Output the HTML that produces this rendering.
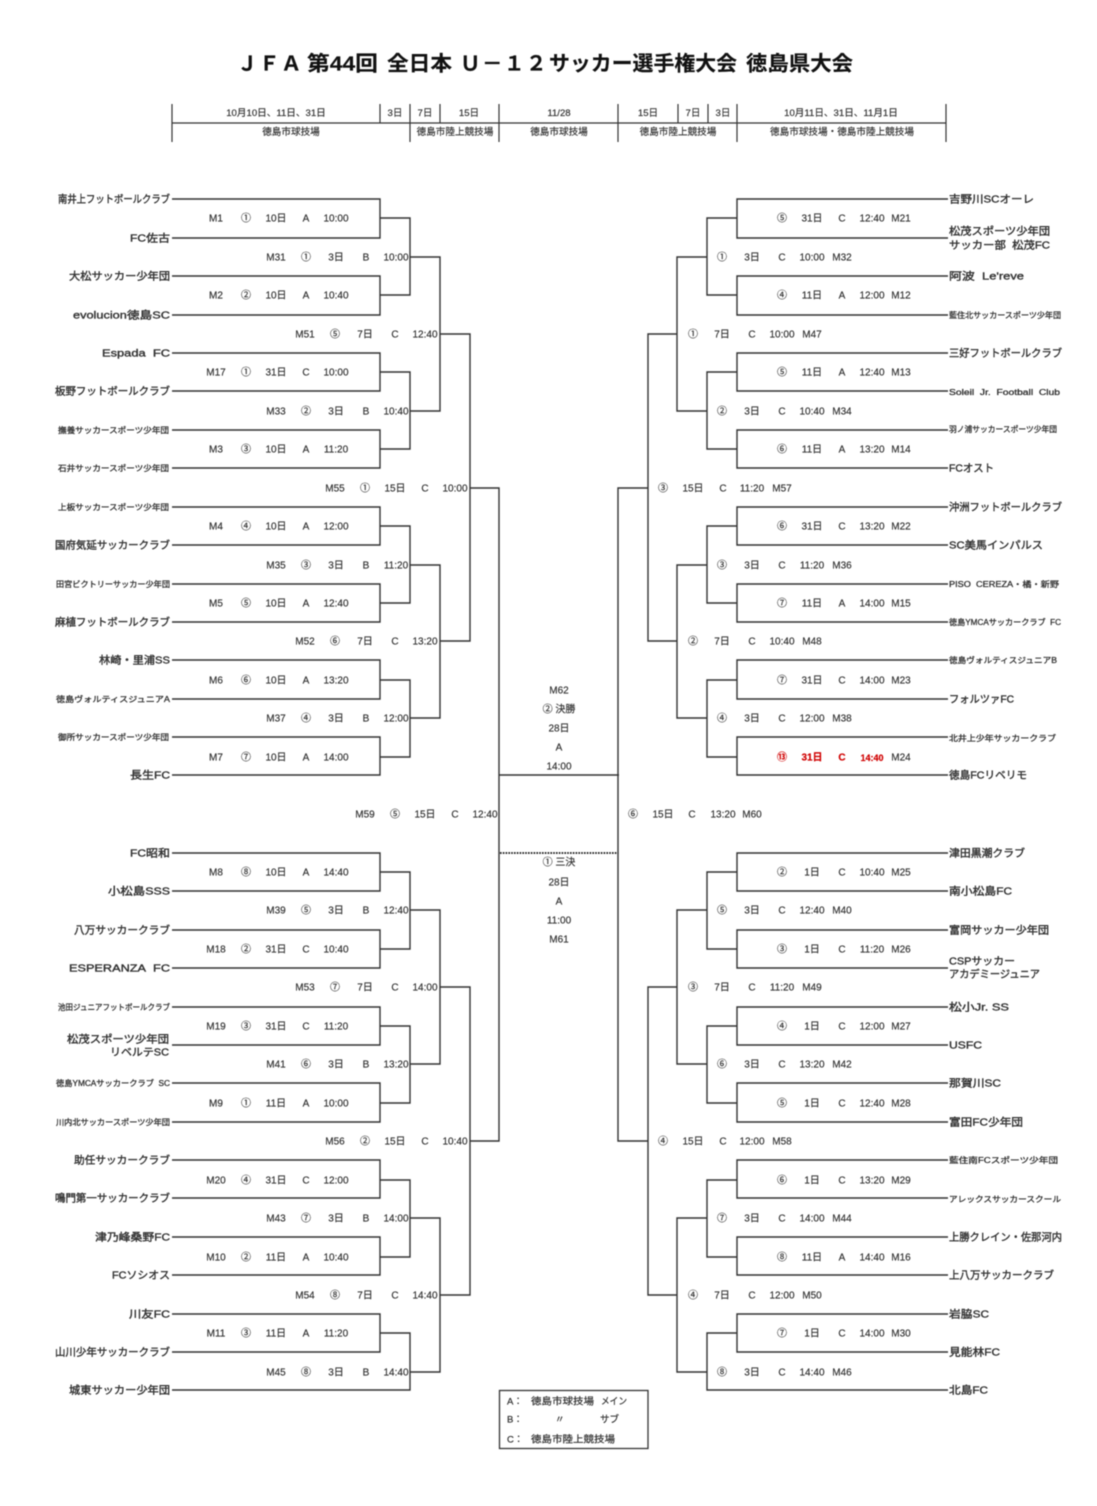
<!DOCTYPE html>
<html lang="ja"><head><meta charset="utf-8"><title>JFA U-12</title>
<style>
html,body{margin:0;padding:0;background:#fff}
svg{display:block;filter:blur(.42px)}
text{font-family:"Liberation Sans","Noto Sans CJK JP",sans-serif;fill:#333;dominant-baseline:central}
.m{transform:translateY(1.2px)}
.m text{font-size:10px;text-anchor:middle;stroke:#333;stroke-width:.18px}
.t{transform:translateY(.5px)}
.t text{font-size:10.5px;fill:#333;stroke:#333;stroke-width:.38px}
.s{transform:translateY(.3px)}
.s text{font-size:8px;fill:#333;stroke:#333;stroke-width:.3px}
.l text{font-size:9.5px;fill:#333;stroke:#333;stroke-width:.22px}
.h{transform:translateY(.5px)}
.h text{font-size:9.6px;text-anchor:middle;stroke:#333;stroke-width:.18px}
.T text{font-size:20.5px;font-weight:700;fill:#111;stroke:#111;stroke-width:.15px}
.m .r{fill:#d00000;stroke:#d00000;font-weight:700}
</style></head><body>
<svg width="1097" height="1506" viewBox="0 0 1097 1506" xmlns="http://www.w3.org/2000/svg">
<g class="T">
<text x="237" y="64">Ｊ</text><text x="259" y="64">Ｆ</text><text x="281" y="64">Ａ</text>
<text x="307" y="64" textLength="71" lengthAdjust="spacingAndGlyphs">第44回</text>
<text x="387" y="64" textLength="65" lengthAdjust="spacingAndGlyphs">全日本</text>
<text x="460" y="64">Ｕ</text><text x="482" y="64">－</text><text x="504" y="64">１</text><text x="526" y="64">２</text>
<text x="549" y="64" textLength="188" lengthAdjust="spacingAndGlyphs">サッカー選手権大会</text>
<text x="746" y="64" textLength="107" lengthAdjust="spacingAndGlyphs">徳島県大会</text>
</g>
<path fill="none" stroke="#333" stroke-width="1.2" d="M172 123H946M172 104V142M380 104V123M410 104V142M440 104V123M499 104V142M618 104V142M678 104V123M708 104V123M737 104V142M946 104V142"/>
<g class="h">
<text x="276" y="113">10月10日、11日、31日</text><text x="395" y="113">3日</text><text x="425" y="113">7日</text><text x="469" y="113">15日</text><text x="559" y="113">11/28</text><text x="648" y="113">15日</text><text x="693" y="113">7日</text><text x="723" y="113">3日</text><text x="841" y="113">10月11日、31日、11月1日</text>
<text x="291" y="132">徳島市球技場</text><text x="455" y="132">徳島市陸上競技場</text><text x="559" y="132">徳島市球技場</text><text x="678" y="132">徳島市陸上競技場</text><text x="842" y="132">徳島市球技場・徳島市陸上競技場</text>
</g>
<path fill="none" stroke="#333" stroke-width="1.4" d="
M172 199H380V238H172M380 218H410V295H380M172 276H380V315H172
M172 353H380V391H172M380 372H410V449H380M172 430H380V468H172
M172 507H380V545H172M380 526H410V603H380M172 584H380V622H172
M172 660H380V699H172M380 680H410V757H380M172 737H380V775H172
M172 853H380V891H172M380 872H410V949H380M172 930H380V968H172
M172 1007H380V1045H172M380 1026H410V1103H380M172 1083H380V1122H172
M172 1160H380V1198H172M380 1180H410V1257H380M172 1237H380V1275H172
M172 1314H380V1352H172M380 1333H410V1390H172
M410 257H440V411H410M410 565H440V718H410M410 910H440V1064H410M410 1218H440V1372H410
M440 334H470V641H440M440 987H470V1295H440
M470 488H499V1141H470
M948 199H737V238H948M737 218H707V295H737M948 276H737V315H948
M948 353H737V391H948M737 372H707V449H737M948 430H737V468H948
M948 507H737V545H948M737 526H707V603H737M948 584H737V622H948
M948 660H737V699H948M737 680H707V757H737M948 737H737V775H948
M948 853H737V891H948M737 872H707V949H737M948 930H737V968H948
M948 1007H737V1045H948M737 1026H707V1103H737M948 1083H737V1122H948
M948 1160H737V1198H948M737 1180H707V1257H737M948 1237H737V1275H948
M948 1314H737V1352H948M737 1333H707V1390H948
M707 257H677V411H707M707 565H677V718H707M707 910H677V1064H707M707 1218H677V1372H707
M677 334H648V641H677M677 987H648V1295H677
M648 488H618V1141H648
M499 775H619"/>
<path stroke="#111" stroke-width="1.8" stroke-dasharray="1.6 1.2" d="M500 853H618"/>
<rect x="499.5" y="1390.5" width="148.500" height="58" fill="none" stroke="#333" stroke-width="1.3"/>
<g class="m">
<text x="216" y="218">M1</text><text x="246" y="218">①</text><text x="276" y="218">10日</text><text x="306" y="218">A</text><text x="336" y="218">10:00</text>
<text x="276" y="257">M31</text><text x="306" y="257">①</text><text x="336" y="257">3日</text><text x="366" y="257">B</text><text x="396" y="257">10:00</text>
<text x="216" y="295">M2</text><text x="246" y="295">②</text><text x="276" y="295">10日</text><text x="306" y="295">A</text><text x="336" y="295">10:40</text>
<text x="305" y="334">M51</text><text x="335" y="334">⑤</text><text x="365" y="334">7日</text><text x="395" y="334">C</text><text x="425" y="334">12:40</text>
<text x="216" y="372">M17</text><text x="246" y="372">①</text><text x="276" y="372">31日</text><text x="306" y="372">C</text><text x="336" y="372">10:00</text>
<text x="276" y="411">M33</text><text x="306" y="411">②</text><text x="336" y="411">3日</text><text x="366" y="411">B</text><text x="396" y="411">10:40</text>
<text x="216" y="449">M3</text><text x="246" y="449">③</text><text x="276" y="449">10日</text><text x="306" y="449">A</text><text x="336" y="449">11:20</text>
<text x="335" y="488">M55</text><text x="365" y="488">①</text><text x="395" y="488">15日</text><text x="425" y="488">C</text><text x="455" y="488">10:00</text>
<text x="216" y="526">M4</text><text x="246" y="526">④</text><text x="276" y="526">10日</text><text x="306" y="526">A</text><text x="336" y="526">12:00</text>
<text x="276" y="565">M35</text><text x="306" y="565">③</text><text x="336" y="565">3日</text><text x="366" y="565">B</text><text x="396" y="565">11:20</text>
<text x="216" y="603">M5</text><text x="246" y="603">⑤</text><text x="276" y="603">10日</text><text x="306" y="603">A</text><text x="336" y="603">12:40</text>
<text x="305" y="641">M52</text><text x="335" y="641">⑥</text><text x="365" y="641">7日</text><text x="395" y="641">C</text><text x="425" y="641">13:20</text>
<text x="216" y="680">M6</text><text x="246" y="680">⑥</text><text x="276" y="680">10日</text><text x="306" y="680">A</text><text x="336" y="680">13:20</text>
<text x="276" y="718">M37</text><text x="306" y="718">④</text><text x="336" y="718">3日</text><text x="366" y="718">B</text><text x="396" y="718">12:00</text>
<text x="216" y="757">M7</text><text x="246" y="757">⑦</text><text x="276" y="757">10日</text><text x="306" y="757">A</text><text x="336" y="757">14:00</text>
<text x="365" y="814">M59</text><text x="395" y="814">⑤</text><text x="425" y="814">15日</text><text x="455" y="814">C</text><text x="485" y="814">12:40</text>
<text x="216" y="872">M8</text><text x="246" y="872">⑧</text><text x="276" y="872">10日</text><text x="306" y="872">A</text><text x="336" y="872">14:40</text>
<text x="276" y="910">M39</text><text x="306" y="910">⑤</text><text x="336" y="910">3日</text><text x="366" y="910">B</text><text x="396" y="910">12:40</text>
<text x="216" y="949">M18</text><text x="246" y="949">②</text><text x="276" y="949">31日</text><text x="306" y="949">C</text><text x="336" y="949">10:40</text>
<text x="305" y="987">M53</text><text x="335" y="987">⑦</text><text x="365" y="987">7日</text><text x="395" y="987">C</text><text x="425" y="987">14:00</text>
<text x="216" y="1026">M19</text><text x="246" y="1026">③</text><text x="276" y="1026">31日</text><text x="306" y="1026">C</text><text x="336" y="1026">11:20</text>
<text x="276" y="1064">M41</text><text x="306" y="1064">⑥</text><text x="336" y="1064">3日</text><text x="366" y="1064">B</text><text x="396" y="1064">13:20</text>
<text x="216" y="1103">M9</text><text x="246" y="1103">①</text><text x="276" y="1103">11日</text><text x="306" y="1103">A</text><text x="336" y="1103">10:00</text>
<text x="335" y="1141">M56</text><text x="365" y="1141">②</text><text x="395" y="1141">15日</text><text x="425" y="1141">C</text><text x="455" y="1141">10:40</text>
<text x="216" y="1180">M20</text><text x="246" y="1180">④</text><text x="276" y="1180">31日</text><text x="306" y="1180">C</text><text x="336" y="1180">12:00</text>
<text x="276" y="1218">M43</text><text x="306" y="1218">⑦</text><text x="336" y="1218">3日</text><text x="366" y="1218">B</text><text x="396" y="1218">14:00</text>
<text x="216" y="1257">M10</text><text x="246" y="1257">②</text><text x="276" y="1257">11日</text><text x="306" y="1257">A</text><text x="336" y="1257">10:40</text>
<text x="305" y="1295">M54</text><text x="335" y="1295">⑧</text><text x="365" y="1295">7日</text><text x="395" y="1295">C</text><text x="425" y="1295">14:40</text>
<text x="216" y="1333">M11</text><text x="246" y="1333">③</text><text x="276" y="1333">11日</text><text x="306" y="1333">A</text><text x="336" y="1333">11:20</text>
<text x="276" y="1372">M45</text><text x="306" y="1372">⑧</text><text x="336" y="1372">3日</text><text x="366" y="1372">B</text><text x="396" y="1372">14:40</text>

<text x="782" y="218">⑤</text><text x="812" y="218">31日</text><text x="842" y="218">C</text><text x="872" y="218">12:40</text><text x="901" y="218">M21</text>
<text x="722" y="257">①</text><text x="752" y="257">3日</text><text x="782" y="257">C</text><text x="812" y="257">10:00</text><text x="842" y="257">M32</text>
<text x="782" y="295">④</text><text x="812" y="295">11日</text><text x="842" y="295">A</text><text x="872" y="295">12:00</text><text x="901" y="295">M12</text>
<text x="693" y="334">①</text><text x="722" y="334">7日</text><text x="752" y="334">C</text><text x="782" y="334">10:00</text><text x="812" y="334">M47</text>
<text x="782" y="372">⑤</text><text x="812" y="372">11日</text><text x="842" y="372">A</text><text x="872" y="372">12:40</text><text x="901" y="372">M13</text>
<text x="722" y="411">②</text><text x="752" y="411">3日</text><text x="782" y="411">C</text><text x="812" y="411">10:40</text><text x="842" y="411">M34</text>
<text x="782" y="449">⑥</text><text x="812" y="449">11日</text><text x="842" y="449">A</text><text x="872" y="449">13:20</text><text x="901" y="449">M14</text>
<text x="663" y="488">③</text><text x="693" y="488">15日</text><text x="723" y="488">C</text><text x="752" y="488">11:20</text><text x="782" y="488">M57</text>
<text x="782" y="526">⑥</text><text x="812" y="526">31日</text><text x="842" y="526">C</text><text x="872" y="526">13:20</text><text x="901" y="526">M22</text>
<text x="722" y="565">③</text><text x="752" y="565">3日</text><text x="782" y="565">C</text><text x="812" y="565">11:20</text><text x="842" y="565">M36</text>
<text x="782" y="603">⑦</text><text x="812" y="603">11日</text><text x="842" y="603">A</text><text x="872" y="603">14:00</text><text x="901" y="603">M15</text>
<text x="693" y="641">②</text><text x="722" y="641">7日</text><text x="752" y="641">C</text><text x="782" y="641">10:40</text><text x="812" y="641">M48</text>
<text x="782" y="680">⑦</text><text x="812" y="680">31日</text><text x="842" y="680">C</text><text x="872" y="680">14:00</text><text x="901" y="680">M23</text>
<text x="722" y="718">④</text><text x="752" y="718">3日</text><text x="782" y="718">C</text><text x="812" y="718">12:00</text><text x="842" y="718">M38</text>
<text class="r" x="782" y="757">⑬</text><text class="r" x="812" y="757">31日</text><text class="r" x="842" y="757">C</text><text class="r" x="872" y="757" style="font-size:9px">14:40</text><text x="901" y="757">M24</text>
<text x="633" y="814">⑥</text><text x="663" y="814">15日</text><text x="692" y="814">C</text><text x="723" y="814">13:20</text><text x="752" y="814">M60</text>
<text x="782" y="872">②</text><text x="812" y="872">1日</text><text x="842" y="872">C</text><text x="872" y="872">10:40</text><text x="901" y="872">M25</text>
<text x="722" y="910">⑤</text><text x="752" y="910">3日</text><text x="782" y="910">C</text><text x="812" y="910">12:40</text><text x="842" y="910">M40</text>
<text x="782" y="949">③</text><text x="812" y="949">1日</text><text x="842" y="949">C</text><text x="872" y="949">11:20</text><text x="901" y="949">M26</text>
<text x="693" y="987">③</text><text x="722" y="987">7日</text><text x="752" y="987">C</text><text x="782" y="987">11:20</text><text x="812" y="987">M49</text>
<text x="782" y="1026">④</text><text x="812" y="1026">1日</text><text x="842" y="1026">C</text><text x="872" y="1026">12:00</text><text x="901" y="1026">M27</text>
<text x="722" y="1064">⑥</text><text x="752" y="1064">3日</text><text x="782" y="1064">C</text><text x="812" y="1064">13:20</text><text x="842" y="1064">M42</text>
<text x="782" y="1103">⑤</text><text x="812" y="1103">1日</text><text x="842" y="1103">C</text><text x="872" y="1103">12:40</text><text x="901" y="1103">M28</text>
<text x="663" y="1141">④</text><text x="693" y="1141">15日</text><text x="723" y="1141">C</text><text x="752" y="1141">12:00</text><text x="782" y="1141">M58</text>
<text x="782" y="1180">⑥</text><text x="812" y="1180">1日</text><text x="842" y="1180">C</text><text x="872" y="1180">13:20</text><text x="901" y="1180">M29</text>
<text x="722" y="1218">⑦</text><text x="752" y="1218">3日</text><text x="782" y="1218">C</text><text x="812" y="1218">14:00</text><text x="842" y="1218">M44</text>
<text x="782" y="1257">⑧</text><text x="812" y="1257">11日</text><text x="842" y="1257">A</text><text x="872" y="1257">14:40</text><text x="901" y="1257">M16</text>
<text x="693" y="1295">④</text><text x="722" y="1295">7日</text><text x="752" y="1295">C</text><text x="782" y="1295">12:00</text><text x="812" y="1295">M50</text>
<text x="782" y="1333">⑦</text><text x="812" y="1333">1日</text><text x="842" y="1333">C</text><text x="872" y="1333">14:00</text><text x="901" y="1333">M30</text>
<text x="722" y="1372">⑧</text><text x="752" y="1372">3日</text><text x="782" y="1372">C</text><text x="812" y="1372">14:40</text><text x="842" y="1372">M46</text>

<text x="559" y="690">M62</text><text x="559" y="709">② 決勝</text><text x="559" y="728">28日</text><text x="559" y="747">A</text><text x="559" y="766">14:00</text>
<text x="559" y="862">① 三決</text><text x="559" y="882">28日</text><text x="559" y="901">A</text><text x="559" y="920">11:00</text><text x="559" y="939">M61</text>
</g>
<g class="t">
<text x="58" y="199" textLength="112" lengthAdjust="spacingAndGlyphs">南井上フットボールクラブ</text>
<text x="130" y="238" textLength="40" lengthAdjust="spacingAndGlyphs">FC佐古</text>
<text x="69" y="276" textLength="101" lengthAdjust="spacingAndGlyphs">大松サッカー少年団</text>
<text x="73" y="315" textLength="97" lengthAdjust="spacingAndGlyphs">evolucion徳島SC</text>
<text x="102" y="353" textLength="68" lengthAdjust="spacingAndGlyphs">Espada&#160;&#160;FC</text>
<text x="55" y="391" textLength="115" lengthAdjust="spacingAndGlyphs">板野フットボールクラブ</text>
<text x="55" y="545" textLength="115" lengthAdjust="spacingAndGlyphs">国府気延サッカークラブ</text>
<text x="55" y="622" textLength="115" lengthAdjust="spacingAndGlyphs">麻植フットボールクラブ</text>
<text x="99" y="660" textLength="71" lengthAdjust="spacingAndGlyphs">林崎・里浦SS</text>
<text x="130" y="775" textLength="40" lengthAdjust="spacingAndGlyphs">長生FC</text>
<text x="130" y="853" textLength="40" lengthAdjust="spacingAndGlyphs">FC昭和</text>
<text x="108" y="891" textLength="62" lengthAdjust="spacingAndGlyphs">小松島SSS</text>
<text x="74" y="930" textLength="96" lengthAdjust="spacingAndGlyphs">八万サッカークラブ</text>
<text x="69" y="968" textLength="101" lengthAdjust="spacingAndGlyphs">ESPERANZA&#160;&#160;FC</text>
<text x="67" y="1039" textLength="102" lengthAdjust="spacingAndGlyphs">松茂スポーツ少年団</text>
<text x="110" y="1052" textLength="59" lengthAdjust="spacingAndGlyphs">リベルテSC</text>
<text x="74" y="1160" textLength="96" lengthAdjust="spacingAndGlyphs">助任サッカークラブ</text>
<text x="55" y="1198" textLength="115" lengthAdjust="spacingAndGlyphs">鳴門第一サッカークラブ</text>
<text x="95" y="1237" textLength="75" lengthAdjust="spacingAndGlyphs">津乃峰桑野FC</text>
<text x="112" y="1275" textLength="58" lengthAdjust="spacingAndGlyphs">FCソシオス</text>
<text x="129" y="1314" textLength="41" lengthAdjust="spacingAndGlyphs">川友FC</text>
<text x="55" y="1352" textLength="115" lengthAdjust="spacingAndGlyphs">山川少年サッカークラブ</text>
<text x="69" y="1390" textLength="101" lengthAdjust="spacingAndGlyphs">城東サッカー少年団</text>

<text x="949" y="199" textLength="85" lengthAdjust="spacingAndGlyphs">吉野川SCオーレ</text>
<text x="949" y="231" textLength="101" lengthAdjust="spacingAndGlyphs">松茂スポーツ少年団</text>
<text x="949" y="245" textLength="101" lengthAdjust="spacingAndGlyphs">サッカー部&#160;&#160;松茂FC</text>
<text x="949" y="276" textLength="75" lengthAdjust="spacingAndGlyphs">阿波&#160;&#160;Le'reve</text>
<text x="949" y="353" textLength="113" lengthAdjust="spacingAndGlyphs">三好フットボールクラブ</text>
<text x="949" y="468" textLength="45" lengthAdjust="spacingAndGlyphs">FCオスト</text>
<text x="949" y="507" textLength="113" lengthAdjust="spacingAndGlyphs">沖洲フットボールクラブ</text>
<text x="949" y="545" textLength="94" lengthAdjust="spacingAndGlyphs">SC美馬インパルス</text>
<text x="949" y="699" textLength="65" lengthAdjust="spacingAndGlyphs">フォルツァFC</text>
<text x="949" y="775" textLength="78" lengthAdjust="spacingAndGlyphs">徳島FCリベリモ</text>
<text x="949" y="853" textLength="76" lengthAdjust="spacingAndGlyphs">津田黒潮クラブ</text>
<text x="949" y="891" textLength="63" lengthAdjust="spacingAndGlyphs">南小松島FC</text>
<text x="949" y="930" textLength="100" lengthAdjust="spacingAndGlyphs">富岡サッカー少年団</text>
<text x="949" y="961" textLength="66" lengthAdjust="spacingAndGlyphs">CSPサッカー</text>
<text x="949" y="974" textLength="91" lengthAdjust="spacingAndGlyphs">アカデミージュニア</text>
<text x="949" y="1007" textLength="60" lengthAdjust="spacingAndGlyphs">松小Jr.&#160;SS</text>
<text x="949" y="1045" textLength="33" lengthAdjust="spacingAndGlyphs">USFC</text>
<text x="949" y="1083" textLength="52" lengthAdjust="spacingAndGlyphs">那賀川SC</text>
<text x="949" y="1122" textLength="74" lengthAdjust="spacingAndGlyphs">富田FC少年団</text>
<text x="949" y="1237" textLength="113" lengthAdjust="spacingAndGlyphs">上勝クレイン・佐那河内</text>
<text x="949" y="1275" textLength="105" lengthAdjust="spacingAndGlyphs">上八万サッカークラブ</text>
<text x="949" y="1314" textLength="40" lengthAdjust="spacingAndGlyphs">岩脇SC</text>
<text x="949" y="1352" textLength="51" lengthAdjust="spacingAndGlyphs">見能林FC</text>
<text x="949" y="1390" textLength="39" lengthAdjust="spacingAndGlyphs">北島FC</text>
</g>
<g class="s">
<text x="58" y="430" textLength="111" lengthAdjust="spacingAndGlyphs">撫養サッカースポーツ少年団</text>
<text x="58" y="468" textLength="111" lengthAdjust="spacingAndGlyphs">石井サッカースポーツ少年団</text>
<text x="58" y="507" textLength="111" lengthAdjust="spacingAndGlyphs">上板サッカースポーツ少年団</text>
<text x="56" y="584" textLength="114" lengthAdjust="spacingAndGlyphs">田宮ビクトリーサッカー少年団</text>
<text x="56" y="699" textLength="114" lengthAdjust="spacingAndGlyphs">徳島ヴォルティスジュニアA</text>
<text x="58" y="737" textLength="111" lengthAdjust="spacingAndGlyphs">御所サッカースポーツ少年団</text>
<text x="58" y="1007" textLength="112" lengthAdjust="spacingAndGlyphs">池田ジュニアフットボールクラブ</text>
<text x="56" y="1083" textLength="114" lengthAdjust="spacingAndGlyphs">徳島YMCAサッカークラブ&#160;&#160;SC</text>
<text x="56" y="1122" textLength="114" lengthAdjust="spacingAndGlyphs">川内北サッカースポーツ少年団</text>

<text x="949" y="315" textLength="112" lengthAdjust="spacingAndGlyphs">藍住北サッカースポーツ少年団</text>
<text x="949" y="392" textLength="111" lengthAdjust="spacingAndGlyphs">Soleil&#160;&#160;Jr.&#160;&#160;Football&#160;&#160;Club</text>
<text x="949" y="429" textLength="108" lengthAdjust="spacingAndGlyphs">羽ノ浦サッカースポーツ少年団</text>
<text x="949" y="584" textLength="110" lengthAdjust="spacingAndGlyphs">PISO&#160;&#160;CEREZA・橘・新野</text>
<text x="949" y="622" textLength="112" lengthAdjust="spacingAndGlyphs">徳島YMCAサッカークラブ&#160;&#160;FC</text>
<text x="949" y="660" textLength="108" lengthAdjust="spacingAndGlyphs">徳島ヴォルティスジュニアB</text>
<text x="949" y="738" textLength="107" lengthAdjust="spacingAndGlyphs">北井上少年サッカークラブ</text>
<text x="949" y="1160" textLength="109" lengthAdjust="spacingAndGlyphs">藍住南FCスポーツ少年団</text>
<text x="949" y="1199" textLength="112" lengthAdjust="spacingAndGlyphs">アレックスサッカースクール</text>
</g>
<g class="l">
<text x="507" y="1402">A：</text><text x="531" y="1402" textLength="63" lengthAdjust="spacingAndGlyphs">徳島市球技場</text><text x="601" y="1402" textLength="26" lengthAdjust="spacingAndGlyphs">メイン</text>
<text x="507" y="1420">B：</text><text x="555" y="1420">〃</text><text x="600" y="1420">サブ</text>
<text x="507" y="1440">C：</text><text x="531" y="1440" textLength="84" lengthAdjust="spacingAndGlyphs">徳島市陸上競技場</text>
</g>
</svg>
</body></html>
